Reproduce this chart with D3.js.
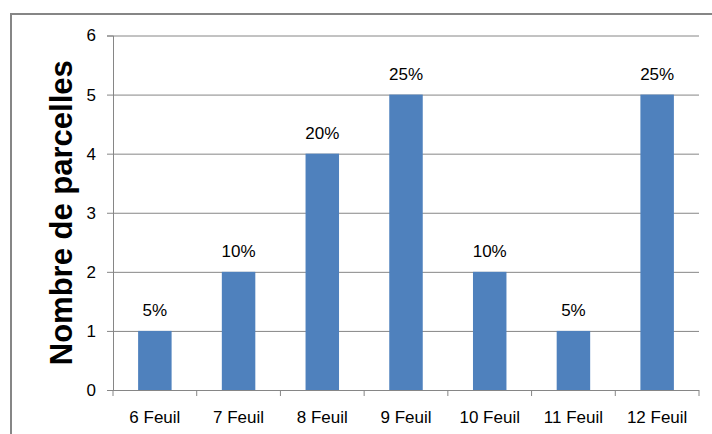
<!DOCTYPE html>
<html>
<head>
<meta charset="utf-8">
<script src="https://cdn.jsdelivr.net/npm/d3@7.9.0/dist/d3.min.js"></script>
<style>
  body { margin: 0; background: #fff; }
  svg { display: block; font-family: "Liberation Sans", Arial, sans-serif; }
</style>
</head>
<body>
<div id="chart"></div>
<script>
// data
const categories = ['6 Feuil', '7 Feuil', '8 Feuil', '9 Feuil', '10 Feuil', '11 Feuil', '12 Feuil'];
const counts = [1, 2, 4, 5, 2, 1, 5];
const percents = ['5%', '10%', '20%', '25%', '10%', '5%', '25%'];
const yTicks = [0, 1, 2, 3, 4, 5, 6];

const width = 712;
const height = 434;
const margin = { top: 35.5, right: 13, bottom: 44, left: 113 };

const svg = d3.select('#chart')
  .append('svg')
  .attr('width', width)
  .attr('height', height);

// outer chart frame (runs off the right/bottom edge like the screenshot)
svg.append('rect')
  .attr('x', 11).attr('y', 14)
  .attr('width', 720).attr('height', 440)
  .attr('fill', 'none')
  .attr('stroke', '#868686')
  .attr('stroke-width', 2);

const x = d3.scaleBand()
  .domain(categories)
  .range([margin.left, width - margin.right])
  .paddingInner(0.6)
  .paddingOuter(0.3);

const y = d3.scaleLinear()
  .domain([0, 6])
  .range([height - margin.bottom, margin.top]);

// y axis
const yAxis = svg.append('g')
  .attr('transform', `translate(${margin.left},0)`)
  .call(d3.axisLeft(y).tickValues(yTicks).tickFormat(d3.format('d')).tickSize(6).tickPadding(11));
yAxis.select('.domain').attr('stroke', '#868686');
yAxis.selectAll('.tick line').attr('stroke', '#868686');
yAxis.selectAll('.tick text')
  .attr('font-size', 17)
  .attr('font-family', '"Liberation Sans", Arial, sans-serif')
  .attr('fill', '#000');

// horizontal gridlines
svg.append('g')
  .selectAll('line')
  .data(yTicks.filter(d => d > 0))
  .join('line')
  .attr('x1', margin.left).attr('x2', width - margin.right)
  .attr('y1', d => y(d) + 0.5).attr('y2', d => y(d) + 0.5)
  .attr('stroke', '#868686');

// bars
svg.append('g')
  .selectAll('rect')
  .data(categories)
  .join('rect')
  .attr('x', d => x(d))
  .attr('y', (d, i) => y(counts[i]))
  .attr('width', x.bandwidth())
  .attr('height', (d, i) => y(0) - y(counts[i]))
  .attr('fill', '#4F81BD');

// value labels
svg.append('g')
  .selectAll('text')
  .data(categories)
  .join('text')
  .attr('x', d => x(d) + x.bandwidth() / 2)
  .attr('y', (d, i) => y(counts[i]) - 14.5)
  .attr('text-anchor', 'middle')
  .attr('font-size', 17)
  .text((d, i) => percents[i]);

// x axis: baseline + category separators
const step = (width - margin.right - margin.left) / categories.length;
const xAxis = svg.append('g')
  .attr('transform', `translate(0,${y(0)})`);
xAxis.append('line')
  .attr('x1', margin.left).attr('x2', width - margin.right)
  .attr('y1', 0.5).attr('y2', 0.5)
  .attr('stroke', '#868686');
xAxis.selectAll('line.sep')
  .data(d3.range(categories.length + 1))
  .join('line')
  .attr('class', 'sep')
  .attr('x1', i => margin.left + i * step).attr('x2', i => margin.left + i * step)
  .attr('y1', 0).attr('y2', 6)
  .attr('stroke', '#868686');
xAxis.selectAll('text')
  .data(categories)
  .join('text')
  .attr('x', d => x(d) + x.bandwidth() / 2)
  .attr('y', 33)
  .attr('text-anchor', 'middle')
  .attr('font-size', 17)
  .text(d => d);

// y title
svg.append('text')
  .attr('transform', `translate(72,${(y(0) + y(6)) / 2}) rotate(-90)`)
  .attr('text-anchor', 'middle')
  .attr('font-size', 31)
  .attr('font-weight', 'bold')
  .text('Nombre de parcelles');
</script>
</body>
</html>
